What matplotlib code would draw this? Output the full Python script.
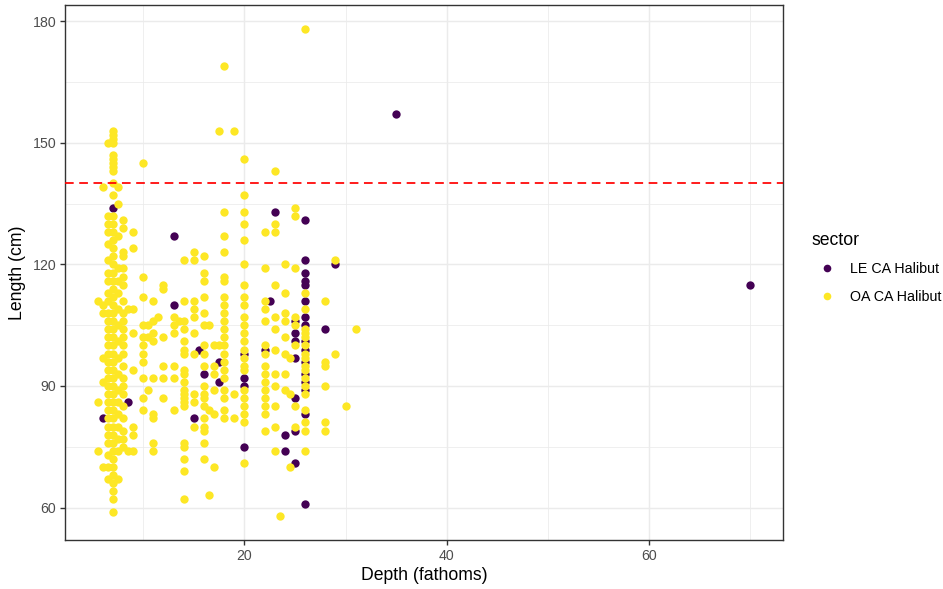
import matplotlib
matplotlib.use("Agg")
import matplotlib.pyplot as plt
from matplotlib.lines import Line2D
import numpy as np

plt.rcParams['font.family'] = ['Liberation Sans', 'DejaVu Sans']

# OA CA Halibut: depths (fathoms) and the lengths (cm) observed at each depth
oa_depths = [5.5, 6, 6.5, 7, 7.5, 8, 8.5, 9, 10, 10.5, 11, 11.5, 12, 13, 13.5, 14,
             15, 16, 16.5, 17, 17.5, 18, 19, 20, 22, 23, 23.5, 24, 24.5, 25, 26,
             28, 29, 30, 31]
oa_lengths = [
    [111, 86, 74],
    [139, 110, 108, 97, 91, 70],
    [150, 132, 130, 128, 125, 121, 118, 116, 113, 111, 108, 106, 104, 102, 100,
     98, 96, 94, 92, 90, 88, 86, 84, 82, 80, 78, 76, 73, 70, 67],
    [153, 152, 151, 150, 147, 146, 145, 144, 143, 140, 137, 132, 130, 128, 126,
     124, 122, 120, 118, 116, 114, 112, 110, 108, 106, 104, 102, 100, 98, 96, 94,
     92, 90, 88, 86, 84, 82, 80, 78, 76, 74, 72, 70, 68, 66, 64, 62, 59],
    [139, 135, 127, 119, 116, 113, 109, 105, 101, 97, 93, 89, 86, 83, 80, 77, 74, 67],
    [131, 129, 123, 122, 119, 117, 115, 111, 108, 106, 104, 102, 100, 98, 95, 92,
     90, 88, 85, 82, 79, 77, 75],
    [109, 74],
    [128, 124, 109, 103, 94, 80, 78, 74],
    [145, 117, 112, 105, 102, 100, 98, 96, 92, 87, 84],
    [105, 102, 89],
    [111, 106, 103, 101, 92, 83, 82, 76, 74],
    [107],
    [115, 114, 102, 95, 92, 87],
    [107, 105, 103, 95, 92, 84],
    [106],
    [121, 111, 106, 104, 101, 99, 98, 94, 93, 91, 89, 88, 87, 86, 85, 76, 75, 72, 69, 62],
    [123, 121, 111, 109, 107, 103, 98, 88, 86, 80],
    [122, 118, 116, 112, 108, 105, 100, 98, 95, 90, 88, 87, 85, 82, 80, 79, 76, 72],
    [105, 84, 63],
    [100, 95, 93, 89, 83, 70],
    [153, 100],
    [169, 133, 127, 123, 117, 116, 112, 110, 108, 106, 104, 102, 100, 98, 96, 94,
     92, 89, 87, 84, 82],
    [153, 88, 82],
    [146, 137, 133, 130, 126, 120, 115, 112, 110, 107, 105, 103, 101, 99, 97, 95,
     94, 89, 87, 85, 83, 81, 71],
    [128, 119, 111, 109, 106, 100, 98, 95, 93, 91, 89, 87, 85, 83, 79],
    [143, 130, 128, 115, 107, 104, 99, 93, 90, 85, 80, 74],
    [58],
    [120, 113, 108, 106, 102, 98, 93, 89],
    [97, 88, 70],
    [134, 132, 119, 107, 105, 100, 85, 80],
    [178, 113, 109, 104, 103, 102, 100, 98, 97, 95, 94, 92, 90, 88, 84, 81, 79, 74],
    [111, 96, 95, 90, 81, 79],
    [121, 98],
    [85],
    [104],
]

# LE CA Halibut
le_depth = [6, 7, 8.5, 13, 13, 15, 15.5, 16, 17.5, 17.5, 20, 20, 20, 20, 22, 22.5,
            23, 24, 24, 25, 25, 25, 25, 25, 25, 25,
            26, 26, 26, 26, 26, 26, 26, 26, 26, 26, 26, 26, 26, 26, 26, 26,
            28, 29, 35, 70]
le_length = [82, 134, 86, 127, 110, 82, 99, 93, 96, 91, 98, 92, 90, 75, 99, 111,
             133, 78, 74, 106, 103, 101, 97, 87, 79, 71,
             131, 121, 118, 116, 115, 111, 107, 105, 101, 99, 96, 93, 91, 89, 83, 61,
             104, 120, 157, 115]

sector_names = ['LE CA Halibut', 'OA CA Halibut']
sector_colors = ['#440154', '#FDE725']
size_limit = 140

oa_depth = np.repeat(oa_depths, [len(v) for v in oa_lengths])
oa_length = np.concatenate([np.array(v, dtype=float) for v in oa_lengths])

fig = plt.figure(figsize=(9.43, 5.89), dpi=100)
ax = fig.add_axes([65 / 943, 49 / 589, 718 / 943, 535 / 589])

ax.scatter(le_depth, le_length, s=36, color=sector_colors[0], linewidths=0, zorder=3)
ax.scatter(oa_depth, oa_length, s=36, color=sector_colors[1], linewidths=0, zorder=3)
ax.axhline(size_limit, color='#FF0000', lw=1.25, dashes=(5, 3.2), zorder=4)

allx = np.concatenate([oa_depth, le_depth])
ally = np.concatenate([oa_length, le_length])
xr = allx.max() - allx.min()
yr = ally.max() - ally.min()
ax.set_xlim(allx.min() - 0.05 * xr, allx.max() + 0.05 * xr)
ax.set_ylim(ally.min() - 0.05 * yr, ally.max() + 0.05 * yr)

ax.set_xticks([20, 40, 60])
ax.set_xticks([10, 30, 50, 70], minor=True)
ax.set_yticks([60, 90, 120, 150, 180])
ax.set_yticks([75, 105, 135, 165], minor=True)
ax.grid(which='major', color='#EBEBEB', lw=1.07, zorder=0)
ax.grid(which='minor', color='#EBEBEB', lw=0.55, zorder=0)
ax.set_axisbelow(True)
ax.tick_params(which='major', length=3.8, width=1.0, color='#333333',
               labelsize=10.2, labelcolor='#4D4D4D', pad=2.5)
ax.tick_params(which='minor', length=0)
for sp in ax.spines.values():
    sp.set_color('#333333')
    sp.set_linewidth(1.0)

ax.set_xlabel('Depth (fathoms)', fontsize=12.7, labelpad=3)
ax.set_ylabel('Length (cm)', fontsize=12.7, labelpad=5)

handles = [Line2D([], [], ls='none', marker='o', ms=5.5, mew=0, color=c) for c in sector_colors]
leg = fig.legend(handles, sector_names, title='sector', loc='center left',
                 bbox_to_anchor=(799 / 943, 0.545), frameon=False, fontsize=10.3,
                 title_fontsize=12.7, alignment='left', handletextpad=0.55,
                 labelspacing=0.95, handlelength=2.1)

fig.savefig('out.png', dpi=100)
